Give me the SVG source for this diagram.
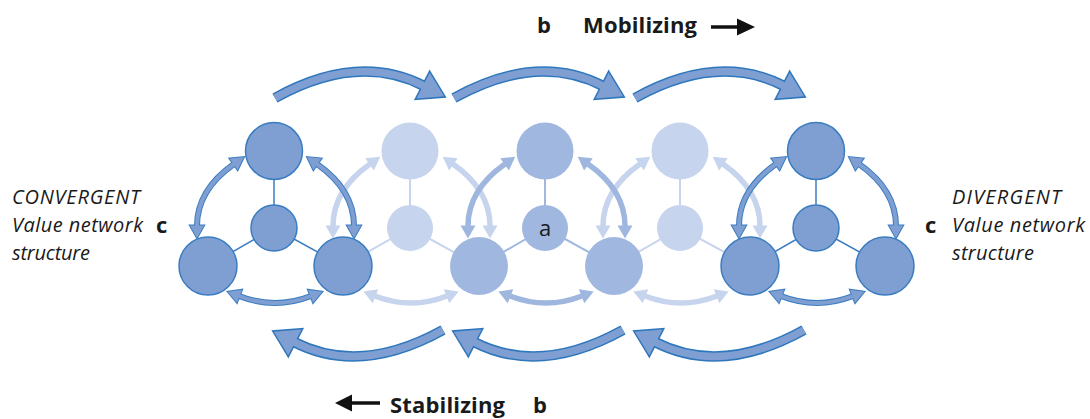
<svg xmlns="http://www.w3.org/2000/svg" width="1090" height="419" viewBox="0 0 1090 419">
<style>
.txt{font-family:"Open Sans","Liberation Sans",sans-serif;fill:#1a1a1a}
.bold{font-weight:700;font-size:22px}
.ital{font-style:italic;font-size:20px}
.lnD{stroke:#3a7cc0;stroke-width:1.5}
.lnM{stroke:#a0b8e0;stroke-width:2}
.lnL{stroke:#c6d4ed;stroke-width:2}
.arc{fill:none}
.arcDo{stroke:#3a7cc0;stroke-width:6;marker-start:url(#hDo);marker-end:url(#hDo)}
.arcDi{stroke:#7f9fd3;stroke-width:4;marker-start:url(#hDi);marker-end:url(#hDi)}
.arcM{stroke:#9fb7df;stroke-width:5.5;marker-start:url(#hM);marker-end:url(#hM)}
.arcL{stroke:#c6d4ed;stroke-width:5.5;marker-start:url(#hL);marker-end:url(#hL)}
.bigO{fill:none;stroke:#2f77bd;stroke-width:10.5;marker-end:url(#bO)}
.bigI{fill:none;stroke:#7f9fd3;stroke-width:7.5;marker-end:url(#bI)}
.nD{fill:#7f9fd3;stroke:#3a7cc0;stroke-width:1.5}
.nM{fill:#a0b8e0}
.nL{fill:#c6d4ed}
</style>
<defs>
<marker id="hDo" markerUnits="userSpaceOnUse" markerWidth="1" markerHeight="1" refX="0.5" refY="0" orient="auto-start-reverse" style="overflow:visible"><path d="M0,-7 L12.5,0 L0,7 z" fill="#3a7cc0" stroke="#3a7cc0" stroke-width="2"/></marker>
<marker id="hDi" markerUnits="userSpaceOnUse" markerWidth="1" markerHeight="1" refX="0.5" refY="0" orient="auto-start-reverse" style="overflow:visible"><path d="M0,-7 L12.5,0 L0,7 z" fill="#7f9fd3"/></marker>
<marker id="hM" markerUnits="userSpaceOnUse" markerWidth="1" markerHeight="1" refX="0.5" refY="0" orient="auto-start-reverse" style="overflow:visible"><path d="M0,-7.5 L13,0 L0,7.5 z" fill="#9fb7df"/></marker>
<marker id="hL" markerUnits="userSpaceOnUse" markerWidth="1" markerHeight="1" refX="0.5" refY="0" orient="auto-start-reverse" style="overflow:visible"><path d="M0,-7.5 L13,0 L0,7.5 z" fill="#c6d4ed"/></marker>
<marker id="bO" markerUnits="userSpaceOnUse" markerWidth="1" markerHeight="1" refX="1" refY="0" orient="auto" style="overflow:visible"><path d="M0,-14.5 L23.6,0 L0,14.5 z" fill="#2f77bd" stroke="#2f77bd" stroke-width="3"/></marker>
<marker id="bI" markerUnits="userSpaceOnUse" markerWidth="1" markerHeight="1" refX="1" refY="0" orient="auto" style="overflow:visible"><path d="M0,-14.5 L23.6,0 L0,14.5 z" fill="#7f9fd3"/></marker>
</defs>

<g id="connectors">
  <g id="links-light">
    <line class="lnL" x1="410" y1="228" x2="410" y2="151"/>
    <line class="lnL" x1="410" y1="228" x2="343" y2="266"/>
    <line class="lnL" x1="410" y1="228" x2="479" y2="266"/>
    <line class="lnL" x1="680" y1="228" x2="680" y2="151"/>
    <line class="lnL" x1="680" y1="228" x2="614" y2="266"/>
    <line class="lnL" x1="680" y1="228" x2="750" y2="266"/>
  </g>
  <g id="arcs-light" class="arc">
    <g transform="translate(410,0)">
      <path class="arcL" d="M-40,164 Q-77,190 -77,226"/>
      <path class="arcL" d="M43,164 Q80,190 80,226"/>
      <path class="arcL" d="M-35,296 Q1,310 37,296"/>
    </g>
    <g transform="translate(680,0)">
      <path class="arcL" d="M-40,164 Q-77,190 -77,226"/>
      <path class="arcL" d="M43,164 Q80,190 80,226"/>
      <path class="arcL" d="M-35,296 Q1,310 37,296"/>
    </g>
  </g>
  <g id="links-medium">
    <line class="lnM" x1="545" y1="228" x2="545" y2="151"/>
    <line class="lnM" x1="545" y1="228" x2="479" y2="266"/>
    <line class="lnM" x1="545" y1="228" x2="614" y2="266"/>
  </g>
  <g id="arcs-medium" class="arc" transform="translate(545,0)">
    <path class="arcM" d="M-40,164 Q-77,190 -77,226"/>
    <path class="arcM" d="M43,164 Q80,190 80,226"/>
    <path class="arcM" d="M-35,296 Q1,310 37,296"/>
  </g>
  <g id="links-dark">
    <line class="lnD" x1="274" y1="228" x2="274" y2="151"/>
    <line class="lnD" x1="274" y1="228" x2="208" y2="266"/>
    <line class="lnD" x1="274" y1="228" x2="343" y2="266"/>
    <line class="lnD" x1="816" y1="228" x2="816" y2="151"/>
    <line class="lnD" x1="816" y1="228" x2="750" y2="266"/>
    <line class="lnD" x1="816" y1="228" x2="885" y2="266"/>
  </g>
  <g id="arcs-dark" class="arc">
    <g transform="translate(274,0)">
      <path class="arcDo" d="M-40,164 Q-77,190 -77,226"/>
      <path class="arcDo" d="M43,164 Q80,190 80,226"/>
      <path class="arcDo" d="M-35,296 Q1,310 37,296"/>
      <path class="arcDi" d="M-40,164 Q-77,190 -77,226"/>
      <path class="arcDi" d="M43,164 Q80,190 80,226"/>
      <path class="arcDi" d="M-35,296 Q1,310 37,296"/>
    </g>
    <g transform="translate(816,0)">
      <path class="arcDo" d="M-40,164 Q-77,190 -77,226"/>
      <path class="arcDo" d="M43,164 Q80,190 80,226"/>
      <path class="arcDo" d="M-35,296 Q1,310 37,296"/>
      <path class="arcDi" d="M-40,164 Q-77,190 -77,226"/>
      <path class="arcDi" d="M43,164 Q80,190 80,226"/>
      <path class="arcDi" d="M-35,296 Q1,310 37,296"/>
    </g>
  </g>
  <g id="mobilizing-arrows">
    <path class="bigO" d="M275,98 Q358,52 424,86"/>
    <path class="bigO" transform="translate(179,0)" d="M275,98 Q358,52 424,86"/>
    <path class="bigO" transform="translate(360,0)" d="M275,98 Q358,52 424,86"/>
    <path class="bigI" d="M275,98 Q358,52 424,86"/>
    <path class="bigI" transform="translate(179,0)" d="M275,98 Q358,52 424,86"/>
    <path class="bigI" transform="translate(360,0)" d="M275,98 Q358,52 424,86"/>
  </g>
  <g id="stabilizing-arrows">
    <path class="bigO" transform="rotate(180 359 214)" d="M275,98 Q358,52 424,86"/>
    <path class="bigO" transform="translate(180,0) rotate(180 359 214)" d="M275,98 Q358,52 424,86"/>
    <path class="bigO" transform="translate(361,0) rotate(180 359 214)" d="M275,98 Q358,52 424,86"/>
    <path class="bigI" transform="rotate(180 359 214)" d="M275,98 Q358,52 424,86"/>
    <path class="bigI" transform="translate(180,0) rotate(180 359 214)" d="M275,98 Q358,52 424,86"/>
    <path class="bigI" transform="translate(361,0) rotate(180 359 214)" d="M275,98 Q358,52 424,86"/>
  </g>
</g>

<g id="node-top2"><circle class="nL" cx="410" cy="151" r="28.5"/></g>
<g id="node-mid2"><circle class="nL" cx="410" cy="228" r="23"/></g>
<g id="node-top4"><circle class="nL" cx="680" cy="151" r="28.5"/></g>
<g id="node-mid4"><circle class="nL" cx="680" cy="228" r="23"/></g>
<g id="node-top3"><circle class="nM" cx="545" cy="151" r="28.5"/></g>
<g id="node-mid3"><circle class="nM" cx="545" cy="228" r="23"/><text class="txt" x="545" y="235.5" font-size="22" text-anchor="middle">a</text></g>
<g id="node-bot3"><circle class="nM" cx="479" cy="266" r="29"/></g>
<g id="node-bot4"><circle class="nM" cx="614" cy="266" r="29"/></g>
<g id="node-top1"><circle class="nD" cx="274" cy="151" r="28.5"/></g>
<g id="node-mid1"><circle class="nD" cx="274" cy="228" r="23"/></g>
<g id="node-bot1"><circle class="nD" cx="208" cy="266" r="29"/></g>
<g id="node-bot2"><circle class="nD" cx="343" cy="266" r="29"/></g>
<g id="node-top5"><circle class="nD" cx="816" cy="151" r="28.5"/></g>
<g id="node-mid5"><circle class="nD" cx="816" cy="228" r="23"/></g>
<g id="node-bot5"><circle class="nD" cx="750" cy="266" r="29"/></g>
<g id="node-bot6"><circle class="nD" cx="885" cy="266" r="29"/></g>

<g id="labels">
  <text class="txt bold" x="537" y="33">b</text>
  <text class="txt bold" x="583" y="33" textLength="114">Mobilizing</text>
  <line x1="711" y1="27" x2="740" y2="27" stroke="#111" stroke-width="3.5"/>
  <polygon points="737,18.5 755,27 737,35.5" fill="#111"/>
  <line x1="349" y1="403" x2="380" y2="403" stroke="#111" stroke-width="3.5"/>
  <polygon points="335,403 352,394.5 352,411.5" fill="#111"/>
  <text class="txt bold" x="390" y="413" textLength="115">Stabilizing</text>
  <text class="txt bold" x="533" y="413">b</text>
  <text class="txt ital" x="12" y="204" textLength="128">CONVERGENT</text>
  <text class="txt ital" x="12" y="232" textLength="131">Value network</text>
  <text class="txt ital" x="12" y="260" textLength="78">structure</text>
  <text class="txt bold" x="156" y="233" font-size="21">c</text>
  <text class="txt ital" x="952" y="204" textLength="109">DIVERGENT</text>
  <text class="txt ital" x="952" y="232" textLength="133">Value network</text>
  <text class="txt ital" x="952" y="260" textLength="82">structure</text>
  <text class="txt bold" x="925" y="233" font-size="21">c</text>
</g>
</svg>
